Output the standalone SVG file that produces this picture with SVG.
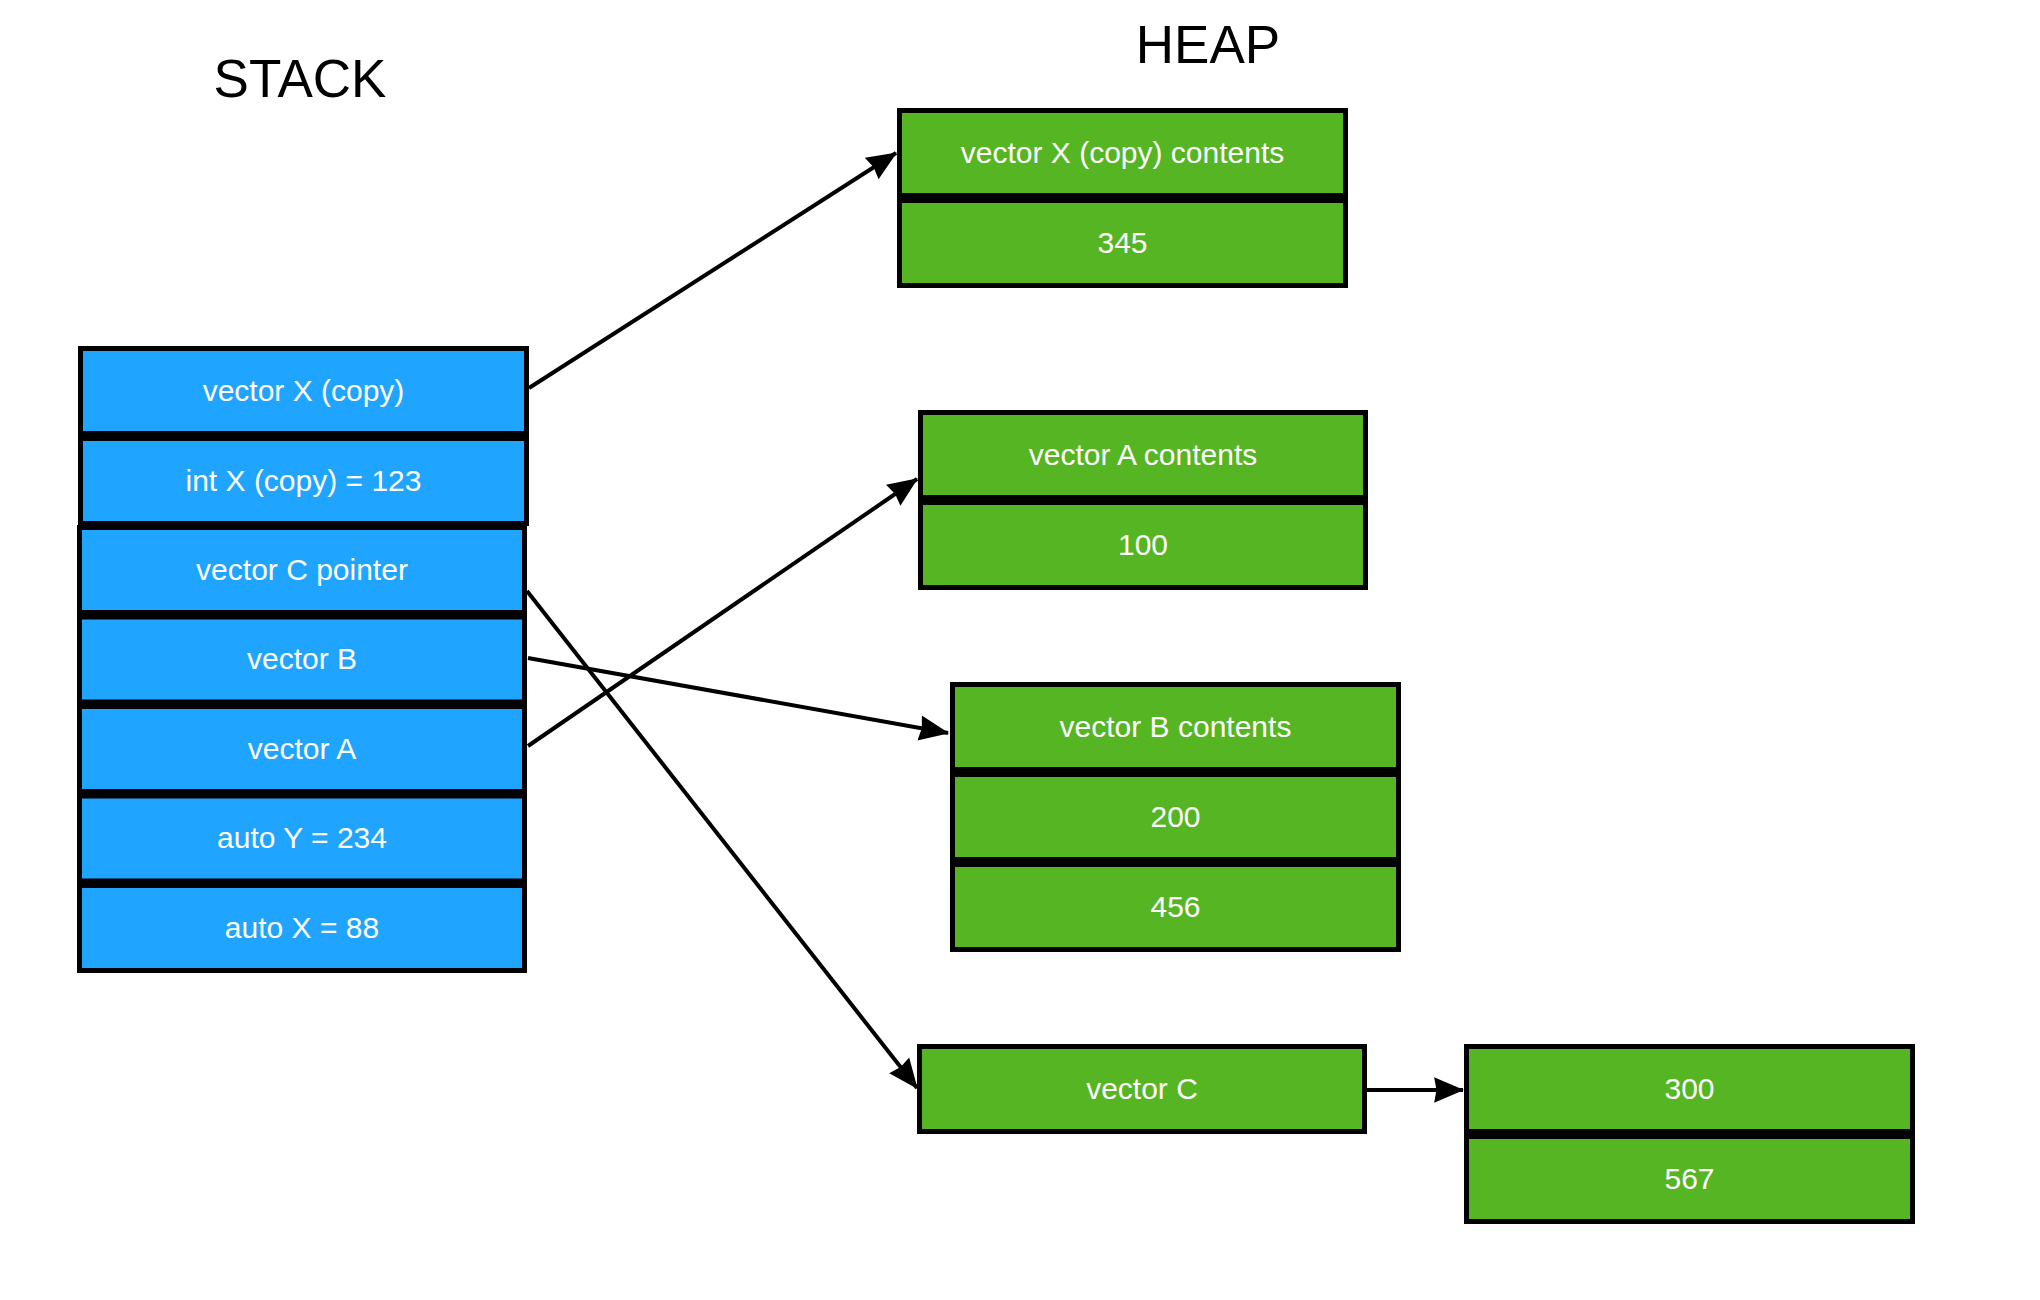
<svg xmlns="http://www.w3.org/2000/svg" width="2040" height="1300" viewBox="0 0 2040 1300">
<style>
.s{fill:#1FA4FF;stroke:#000;stroke-width:5}
.h{fill:#56B522;stroke:#000;stroke-width:5}
.t{font-family:"Liberation Sans",Arial,sans-serif;font-size:30px;fill:#fff;text-anchor:middle}
.title{font-family:"Liberation Sans",Arial,sans-serif;font-size:53px;fill:#000;text-anchor:middle}
.c{stroke:#000;stroke-width:4;fill:none;marker-end:url(#ah)}
</style>
<defs>
<marker id="ah" markerUnits="userSpaceOnUse" markerWidth="30" markerHeight="26" viewBox="0 0 26 22" refX="25" refY="11" orient="auto">
<path d="M0,0 L26,11 L0,22 L2,11 Z" fill="#000"/>
</marker>
</defs>
<rect width="2040" height="1300" fill="#fff"/>
<text class="title" x="300" y="97">STACK</text>
<text class="title" x="1208" y="63">HEAP</text>
<g id="stack">
<g id="s-vecXcopy"><rect class="s" x="80.5" y="348.5" width="446" height="85"/><text class="t" x="303.5" y="400.5">vector X (copy)</text></g>
<g id="s-intX"><rect class="s" x="80.5" y="438.5" width="446" height="85"/><text class="t" x="303.5" y="490.5">int X (copy) = 123</text></g>
<g id="s-vecCptr"><rect class="s" x="79.5" y="527.5" width="445" height="85"/><text class="t" x="302" y="579.5">vector C pointer</text></g>
<g id="s-vecB"><rect class="s" x="79.5" y="617" width="445" height="85"/><text class="t" x="302" y="669">vector B</text></g>
<g id="s-vecA"><rect class="s" x="79.5" y="706.5" width="445" height="85"/><text class="t" x="302" y="759">vector A</text></g>
<g id="s-autoY"><rect class="s" x="79.5" y="796" width="445" height="85"/><text class="t" x="302" y="848">auto Y = 234</text></g>
<g id="s-autoX"><rect class="s" x="79.5" y="885.5" width="445" height="85"/><text class="t" x="302" y="937.5">auto X = 88</text></g>
</g>
<g id="h-vecX">
<rect class="h" x="899.5" y="110.5" width="446" height="85"/><text class="t" x="1122.5" y="162.5">vector X (copy) contents</text>
<rect class="h" x="899.5" y="200.5" width="446" height="85"/><text class="t" x="1122.5" y="252.5">345</text>
</g>
<g id="h-vecA">
<rect class="h" x="920.5" y="412.5" width="445" height="85"/><text class="t" x="1143" y="464.5">vector A contents</text>
<rect class="h" x="920.5" y="502.5" width="445" height="85"/><text class="t" x="1143" y="554.5">100</text>
</g>
<g id="h-vecB">
<rect class="h" x="952.5" y="684.5" width="446" height="85"/><text class="t" x="1175.5" y="736.5">vector B contents</text>
<rect class="h" x="952.5" y="774.5" width="446" height="85"/><text class="t" x="1175.5" y="826.5">200</text>
<rect class="h" x="952.5" y="864.5" width="446" height="85"/><text class="t" x="1175.5" y="916.5">456</text>
</g>
<g id="h-vecC">
<rect class="h" x="919.5" y="1046.5" width="445" height="85"/><text class="t" x="1142" y="1098.5">vector C</text>
</g>
<g id="h-vecCdata">
<rect class="h" x="1466.5" y="1046.5" width="446" height="85"/><text class="t" x="1689.5" y="1098.5">300</text>
<rect class="h" x="1466.5" y="1136.5" width="446" height="85"/><text class="t" x="1689.5" y="1188.5">567</text>
</g>
<g id="connectors">
<line class="c" x1="529" y1="388" x2="896" y2="153"/>
<line class="c" x1="528" y1="746" x2="917" y2="479"/>
<line class="c" x1="528" y1="658" x2="948" y2="733"/>
<line class="c" x1="527" y1="591" x2="917" y2="1088"/>
<line class="c" x1="1367" y1="1090" x2="1463" y2="1090"/>
</g>
</svg>
